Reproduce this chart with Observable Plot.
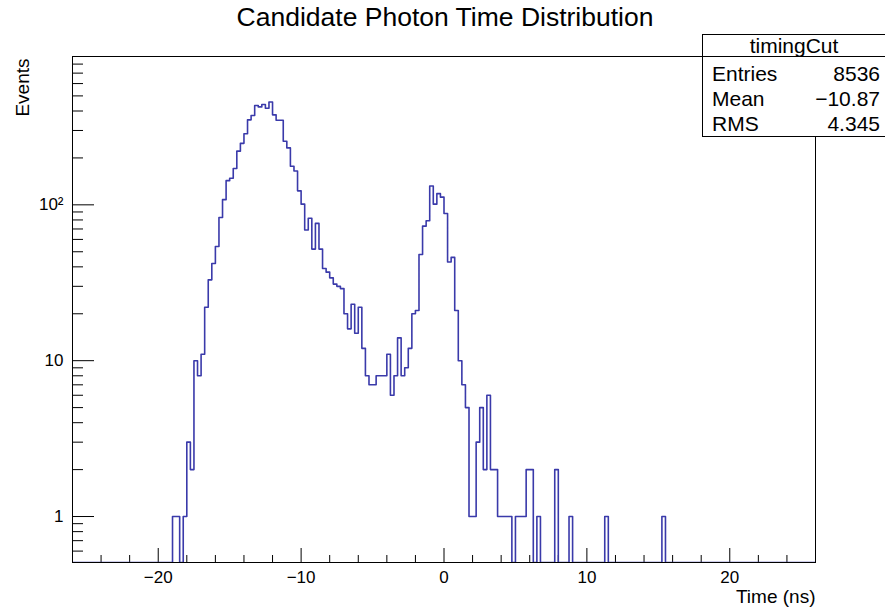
<!DOCTYPE html>
<html>
<head>
<meta charset="utf-8">
<script src="https://cdn.jsdelivr.net/npm/d3@7"></script>
<script src="https://cdn.jsdelivr.net/npm/@observablehq/plot@0.6"></script>
<style>
  body { margin: 0; background: #fff; }
  #wrap { position: relative; width: 885px; height: 613px; font-family: "Liberation Sans", Arial, Helvetica, sans-serif; color: #000; }
  #title { position: absolute; left: 0; top: 0px; width: 890px; text-align: center; font-size: 26.5px; line-height: 34px; }
  #stats { position: absolute; left: 702px; top: 34px; width: 184px; height: 103px; box-sizing: border-box; border: 1px solid #000; background: #fff; font-size: 21px; }
  #stats .head { height: 21px; line-height: 22px; text-align: center; border-bottom: 1px solid #000; }
  #stats .row { display: flex; justify-content: space-between; padding: 0 5px 0 9px; height: 25px; line-height: 34px; }
  #chart { position: absolute; left: 0; top: 0; }
</style>
</head>
<body>
<div id="wrap">
  <div id="chart"></div>
  <div id="title"></div>
  <div id="stats"></div>
</div>
<script>
// ---- data ----
const histName = "timingCut";
const titleText = "Candidate Photon Time Distribution";
const xTitle = "Time (ns)";
const yTitle = "Events";
const histRange = [-26, 26];
const binWidth = 0.25;
const binStart = -19.0;
// counts per 0.25 ns bin, starting at -19.0 ns
const counts = [
  1, 1, 0, 1, 3, 2, 10, 8, 11, 22,
  33, 42, 54, 83, 108, 143, 148, 171, 221, 248,
  286, 351, 374, 434, 425, 440, 417, 457, 378, 349,
  349, 256, 232, 177, 165, 123, 101, 69, 82, 52,
  76, 52, 39, 37, 34, 31, 30, 29, 20, 16,
  23, 15, 22, 12, 8, 7, 7, 8, 8, 8,
  11, 6, 8, 14, 8, 9, 12, 20, 21, 48,
  73, 79, 132, 101, 118, 112, 88, 43, 46, 21,
  10, 7, 5, 1, 1, 3, 5, 2, 6, 2,
  2, 1, 1, 1, 1, 0, 1, 1, 1, 2,
  2, 0, 1, 0, 0, 0, 0, 2, 0, 0,
  0, 1, 0, 0, 0, 0, 0, 0, 0, 0,
  0, 1, 0, 0, 0, 0, 0, 0, 0, 0,
  0, 0, 0, 0, 0, 0, 0, 1
];
const xMajorTicks = [-20, -10, 0, 10, 20];
const xMajorLabels = ["\u221220", "\u221210", "0", "10", "20"];
const xMinorTicks = [-24, -22, -18, -16, -14, -12, -8, -6, -4, -2, 2, 4, 6, 8, 12, 14, 16, 18, 22, 24];
const yDomain = [0.507, 895];
const yMajorTicks = [1, 10, 100];
const yMajorLabels = ["1", "10", "10\u00b2"];
const yMinorTicks = [0.6, 0.7, 0.8, 0.9, 2, 3, 4, 5, 6, 7, 8, 9, 20, 30, 40, 50, 60, 70, 80, 90, 200, 300, 400, 500, 600, 700, 800];
const statsLabels = ["Entries", "Mean", "RMS"];
const statsValues = ["8536", "\u221210.87", "4.345"];

// ---- build histogram outline (step path) ----
const nBins = Math.round((histRange[1] - histRange[0]) / binWidth);
const offset = Math.round((binStart - histRange[0]) / binWidth);
const outline = [];
for (let i = 0; i < nBins; i++) {
  const lo = histRange[0] + i * binWidth, hi = lo + binWidth;
  const j = i - offset;
  const c = (j >= 0 && j < counts.length) ? counts[j] : 0;
  const v = c > 0 ? c : yDomain[0];
  outline.push({x: lo, y: v}, {x: hi, y: v});
}

const W = 885, H = 613;
const mL = 72, mR = 70, mT = 56, mB = 51;
const fw = W - mL - mR, fh = H - mT - mB;
const ink = "#000";

const plot = Plot.plot({
  width: W, height: H,
  marginLeft: mL, marginRight: mR, marginTop: mT, marginBottom: mB,
  style: {fontFamily: "'Liberation Sans', Arial, Helvetica, sans-serif", fontSize: "17px", background: "#fff", color: "#000", overflow: "visible"},
  x: {domain: histRange, axis: null},
  y: {type: "log", domain: yDomain, axis: null},
  marks: [
    // tick marks inside the frame (ROOT style)
    Plot.tickX(xMinorTicks, {x: d => d, stroke: ink, strokeWidth: 1, insetTop: fh - 7}),
    Plot.tickX(xMajorTicks, {x: d => d, stroke: ink, strokeWidth: 1, insetTop: fh - 14}),
    Plot.tickY(yMinorTicks, {y: d => d, stroke: ink, strokeWidth: 1, insetRight: fw - 11}),
    Plot.tickY(yMajorTicks, {y: d => d, stroke: ink, strokeWidth: 1, insetRight: fw - 22}),
    // histogram
    Plot.line(outline, {x: "x", y: "y", stroke: "#3a3aaa", strokeWidth: 1.6, clip: true}),
    Plot.frame({stroke: ink, strokeWidth: 1}),
    // tick labels
    Plot.text(xMajorTicks, {x: d => d, frameAnchor: "bottom", dy: 20, text: (d, i) => xMajorLabels[i], fontSize: 17}),
    Plot.text(yMajorTicks, {y: d => d, frameAnchor: "left", dx: -9, textAnchor: "end", text: (d, i) => yMajorLabels[i], fontSize: 17}),
    // axis titles
    Plot.text([xTitle], {frameAnchor: "bottom-right", dy: 40, textAnchor: "end", text: d => d, fontSize: 19}),
    Plot.text([yTitle], {frameAnchor: "top-left", dx: -57, dy: 2, rotate: -90, textAnchor: "end", text: d => d, fontSize: 19})
  ]
});
document.getElementById("chart").appendChild(plot);

document.getElementById("title").textContent = titleText;
const stats = document.getElementById("stats");
const head = document.createElement("div");
head.className = "head";
head.textContent = histName;
stats.appendChild(head);
statsLabels.forEach((l, i) => {
  const r = document.createElement("div");
  r.className = "row";
  const a = document.createElement("span"); a.textContent = l;
  const b = document.createElement("span"); b.textContent = statsValues[i];
  r.appendChild(a); r.appendChild(b);
  stats.appendChild(r);
});
</script>
</body>
</html>
